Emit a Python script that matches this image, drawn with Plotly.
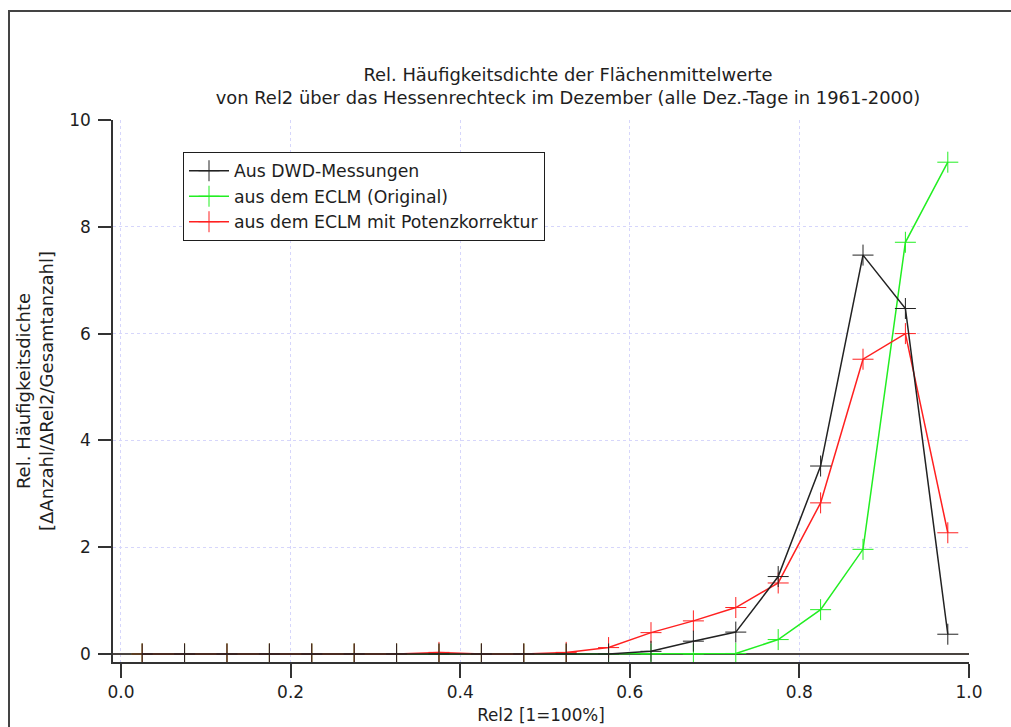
import plotly.graph_objects as go

# Bin centres of Rel2 (bin width 0.05)
rel2 = [0.025, 0.075, 0.125, 0.175, 0.225, 0.275, 0.325, 0.375, 0.425, 0.475,
        0.525, 0.575, 0.625, 0.675, 0.725, 0.775, 0.825, 0.875, 0.925, 0.975]

# Relative frequency density per bin
dwd = [0, 0, 0, 0, 0, 0, 0, 0, 0, 0,
       0.0, 0.0, 0.05, 0.24, 0.41, 1.45, 3.52, 7.47, 6.47, 0.37]
eclm_orig = [0, 0, 0, 0, 0, 0, 0, 0, 0, 0,
             0, 0, 0, 0, 0.01, 0.27, 0.83, 1.96, 7.71, 9.21]
eclm_pot = [0, 0, 0, 0, 0, 0, 0, 0.03, 0, 0,
            0.03, 0.12, 0.40, 0.62, 0.87, 1.33, 2.83, 5.52, 6.00, 2.27]

x_ticks = [0.0, 0.2, 0.4, 0.6, 0.8, 1.0]
y_ticks = [0, 2, 4, 6, 8, 10]

FONT = "DejaVu Sans"
INK = "#1e1e1e"

fig = go.Figure()

def add_series(y, name, color, rank):
    fig.add_trace(go.Scatter(
        x=rel2, y=y, name=name, mode="lines+markers",
        line=dict(color=color, width=1.5),
        marker=dict(symbol="cross-thin", size=15,
                    line=dict(color=color, width=1)),
        legendrank=rank,
    ))

# drawn bottom-to-top: green, red, black
add_series(eclm_orig, "aus dem ECLM (Original)", "#22ee22", 2)
add_series(eclm_pot, "aus dem ECLM mit Potenzkorrektur", "#ff2020", 3)
add_series(dwd, "Aus DWD-Messungen", "#222222", 1)

L, R, T, B = 113, 969, 120, 662
W, H = 1011, 727

def px_x(p):
    return (p - L) / (R - L)

def px_y(p):
    return (B - p) / (B - T)

fig.update_layout(
    width=W, height=H,
    margin=dict(l=L, r=W - R, t=T, b=H - B, autoexpand=False),
    paper_bgcolor="white", plot_bgcolor="white",
    font=dict(family=FONT, size=16, color=INK),
    title=dict(
        text="Rel. Häufigkeitsdichte der Flächenmittelwerte<br>"
             "von Rel2 über das Hessenrechteck im Dezember (alle Dez.-Tage in 1961-2000)",
        xref="container", yref="container",
        x=568 / W, xanchor="center", y=1 - 81 / H, yanchor="middle",
        font=dict(family=FONT, size=17.9, color=INK),
    ),
    showlegend=True,
    legend=dict(
        x=px_x(183), y=px_y(152), xanchor="left", yanchor="top",
        bgcolor="white", bordercolor=INK, borderwidth=1,
        font=dict(family=FONT, size=17.3, color=INK),
        tracegroupgap=0, itemwidth=40,
    ),
    xaxis=dict(
        range=[-0.0094, 1.0],
        tickvals=x_ticks, ticktext=[f"{v:.1f}" for v in x_ticks],
        ticks="outside", ticklen=14, tickwidth=1.5, tickcolor="#333333",
        showline=True, linecolor="#333333", linewidth=1.5,
        showgrid=True, gridcolor="#d6d6fb", gridwidth=1, griddash="dot",
        zeroline=False, automargin=False,
        tickfont=dict(family=FONT, size=17),
        title=dict(text="Rel2 [1=100%]", font=dict(family=FONT, size=16.8), standoff=8),
    ),
    yaxis=dict(
        range=[-0.15, 10],
        tickvals=y_ticks,
        ticks="outside", ticklen=13, tickwidth=1.5, tickcolor="#333333",
        showline=True, linecolor="#333333", linewidth=1.5,
        showgrid=True, gridcolor="#d6d6fb", gridwidth=1, griddash="dot",
        zeroline=True, zerolinecolor="#4a4440", zerolinewidth=1.5,
        automargin=False,
        tickfont=dict(family=FONT, size=17),
        ticklabelstandoff=4,
    ),
)

# Two-line y-axis title
fig.add_annotation(
    text="Rel. Häufigkeitsdichte<br>[ΔAnzahl/ΔRel2/Gesamtanzahl]",
    xref="paper", yref="paper", x=px_x(35), y=px_y(391),
    xanchor="center", yanchor="middle", textangle=-90, showarrow=False,
    font=dict(family=FONT, size=18, color=INK),
)

# Outer frame around the graphic
fig.add_shape(
    type="rect", xref="paper", yref="paper",
    x0=px_x(9), x1=px_x(1020), y0=px_y(740), y1=px_y(11),
    line=dict(color="#444444", width=2), fillcolor="rgba(0,0,0,0)", layer="below",
)

fig.write_html("out.html")
